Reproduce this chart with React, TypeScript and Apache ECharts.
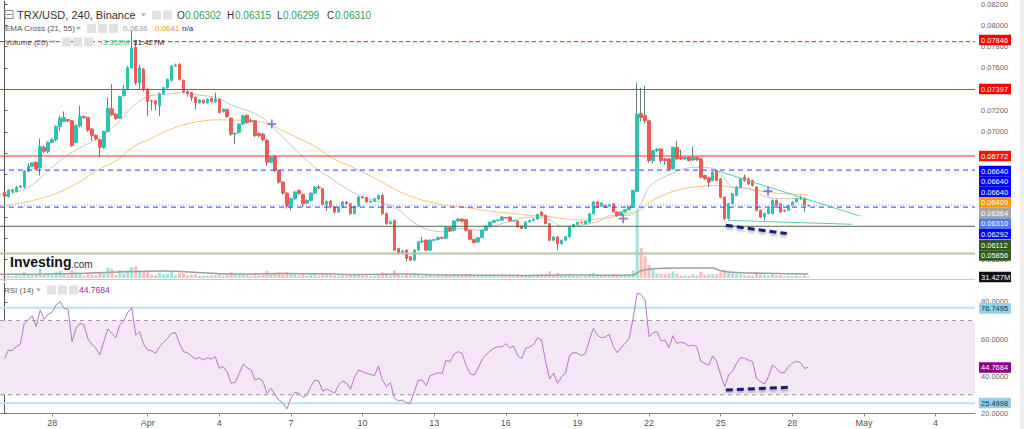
import React, { useEffect, useRef } from "react";
import * as echarts from "echarts";

// 4h bars from 26 Mar 00:00 — [open, close, low, high]
const candles: number[][] = [
  [0.06433, 0.06393, 0.0638, 0.0644], [0.06393, 0.06449, 0.0638, 0.0646], [0.0644, 0.06455, 0.06425, 0.06465], [0.0644, 0.0648, 0.0643, 0.0649], [0.0648, 0.0649, 0.0647, 0.065],
  [0.0648, 0.0663, 0.0647, 0.0664], [0.0663, 0.06676, 0.0662, 0.06704], [0.06676, 0.06707, 0.0667, 0.06715], [0.06714, 0.06651, 0.0664, 0.0672], [0.0666, 0.06863, 0.06589, 0.06937],
  [0.06854, 0.06816, 0.068, 0.0687], [0.06816, 0.069, 0.068, 0.0691], [0.069, 0.06925, 0.0689, 0.0694], [0.06925, 0.07049, 0.0691, 0.0706], [0.07049, 0.07128, 0.07009, 0.0715],
  [0.07097, 0.07134, 0.0709, 0.0719], [0.07115, 0.07103, 0.0709, 0.0712], [0.07103, 0.06869, 0.0686, 0.0711], [0.069, 0.07056, 0.0689, 0.0707], [0.07056, 0.07143, 0.0704, 0.07243],
  [0.07143, 0.07134, 0.0712, 0.0715], [0.07134, 0.07016, 0.07, 0.0714], [0.07025, 0.06963, 0.06916, 0.07035], [0.06966, 0.06932, 0.0692, 0.06975], [0.06925, 0.06854, 0.0676, 0.06935],
  [0.06854, 0.07003, 0.0684, 0.0701], [0.07003, 0.07221, 0.06995, 0.07321], [0.07215, 0.07159, 0.0715, 0.07446], [0.07165, 0.07125, 0.0711, 0.07175], [0.07128, 0.0733, 0.0712, 0.0734],
  [0.0734, 0.07393, 0.0733, 0.0744], [0.07399, 0.07601, 0.0739, 0.07617], [0.07601, 0.07785, 0.0759, 0.0795], [0.07795, 0.07461, 0.0744, 0.07846], [0.07461, 0.07601, 0.074, 0.0763],
  [0.07586, 0.07399, 0.0738, 0.076], [0.07399, 0.07284, 0.0715, 0.0741], [0.0729, 0.07284, 0.072, 0.073], [0.0729, 0.07259, 0.072, 0.073], [0.07243, 0.07358, 0.0715, 0.0737],
  [0.07358, 0.07414, 0.0735, 0.0742], [0.07414, 0.07492, 0.07405, 0.075], [0.07483, 0.07617, 0.0747, 0.07625], [0.07617, 0.07626, 0.0761, 0.0764], [0.07632, 0.07492, 0.0748, 0.07645],
  [0.07483, 0.07377, 0.0736, 0.0749], [0.07377, 0.07358, 0.0733, 0.0739], [0.07368, 0.07321, 0.0729, 0.07375], [0.07324, 0.07274, 0.07212, 0.0733], [0.07274, 0.07299, 0.07265, 0.07305],
  [0.07296, 0.07271, 0.07265, 0.073], [0.07274, 0.07305, 0.07265, 0.07315], [0.07315, 0.07284, 0.07275, 0.0732], [0.0728, 0.07305, 0.0727, 0.07368], [0.07305, 0.07181, 0.0717, 0.0731],
  [0.0719, 0.07212, 0.0718, 0.0722], [0.07209, 0.07144, 0.0713, 0.07215], [0.07128, 0.06978, 0.0696, 0.07135], [0.06978, 0.06985, 0.06885, 0.06995], [0.06994, 0.07072, 0.06985, 0.0708],
  [0.07072, 0.0715, 0.0706, 0.0716], [0.07153, 0.07087, 0.07075, 0.07165], [0.07103, 0.07097, 0.07085, 0.07125], [0.07103, 0.06963, 0.0695, 0.0711], [0.06985, 0.06963, 0.0695, 0.06995],
  [0.06978, 0.06925, 0.0691, 0.0699], [0.06922, 0.06714, 0.0668, 0.0693], [0.06714, 0.0676, 0.06705, 0.0677], [0.0677, 0.06636, 0.0662, 0.0678], [0.06636, 0.06527, 0.06515, 0.06645],
  [0.06527, 0.06424, 0.0641, 0.06535], [0.06424, 0.063, 0.06277, 0.0643], [0.063, 0.06371, 0.06262, 0.0638], [0.06371, 0.06433, 0.0636, 0.06445], [0.06449, 0.06418, 0.0641, 0.06455],
  [0.06412, 0.06324, 0.06293, 0.06418], [0.0633, 0.06355, 0.0632, 0.06365], [0.06355, 0.06424, 0.06345, 0.0643], [0.06424, 0.0648, 0.06415, 0.0649], [0.0648, 0.06472, 0.0646, 0.065],
  [0.06464, 0.06318, 0.0631, 0.0647], [0.06318, 0.06346, 0.06256, 0.06355], [0.06349, 0.06293, 0.0628, 0.0636], [0.06293, 0.06246, 0.0623, 0.063], [0.06246, 0.06293, 0.0624, 0.063],
  [0.06293, 0.0634, 0.06285, 0.0635], [0.0634, 0.06324, 0.06315, 0.0635], [0.06324, 0.06231, 0.0622, 0.0633], [0.06231, 0.063, 0.06225, 0.0631], [0.063, 0.06386, 0.0629, 0.06395],
  [0.06386, 0.0638, 0.0637, 0.064], [0.0638, 0.0634, 0.06335, 0.0639], [0.0634, 0.06346, 0.0633, 0.06355], [0.06346, 0.0637, 0.0634, 0.0638], [0.0637, 0.06402, 0.0636, 0.0641],
  [0.06402, 0.06231, 0.0622, 0.0642], [0.06231, 0.06137, 0.06125, 0.0624], [0.06137, 0.0615, 0.0613, 0.06165], [0.06165, 0.05888, 0.0588, 0.06175], [0.05903, 0.05857, 0.05845, 0.0591],
  [0.0587, 0.0588, 0.0586, 0.0589], [0.05888, 0.0581, 0.0578, 0.05895], [0.05826, 0.05795, 0.05785, 0.0583], [0.05795, 0.05888, 0.05785, 0.05895], [0.05888, 0.05966, 0.0588, 0.05975],
  [0.05966, 0.05975, 0.05955, 0.06012], [0.05981, 0.05888, 0.0588, 0.0599], [0.05888, 0.05981, 0.0588, 0.0599], [0.05981, 0.05987, 0.05975, 0.05995], [0.05987, 0.06006, 0.0598, 0.06015],
  [0.06006, 0.06, 0.05995, 0.06015], [0.06, 0.061, 0.05995, 0.0611], [0.061, 0.0607, 0.0606, 0.06105], [0.06075, 0.06162, 0.06065, 0.0617], [0.06162, 0.0618, 0.06155, 0.0619],
  [0.0618, 0.0616, 0.0615, 0.06185], [0.06175, 0.06075, 0.06065, 0.0618], [0.06075, 0.0599, 0.0598, 0.0608], [0.0599, 0.0596, 0.0595, 0.05995], [0.05966, 0.06006, 0.05955, 0.06012],
  [0.06006, 0.06075, 0.06, 0.0608], [0.06075, 0.06115, 0.0607, 0.0612], [0.06115, 0.0615, 0.0611, 0.06155], [0.0615, 0.06165, 0.06145, 0.06175], [0.06165, 0.0617, 0.0616, 0.0618],
  [0.0617, 0.06199, 0.06165, 0.06205], [0.06195, 0.0619, 0.06185, 0.062], [0.06199, 0.06162, 0.06155, 0.06205], [0.06162, 0.06165, 0.06155, 0.0617], [0.06162, 0.06106, 0.061, 0.0617],
  [0.06115, 0.0609, 0.06085, 0.0612], [0.0609, 0.06153, 0.06085, 0.0616], [0.06153, 0.06168, 0.06145, 0.06175], [0.06168, 0.0618, 0.0616, 0.06185], [0.0618, 0.06224, 0.06175, 0.0623],
  [0.06246, 0.06215, 0.06205, 0.06255], [0.06215, 0.06137, 0.0613, 0.0622], [0.06137, 0.05981, 0.05975, 0.0614], [0.05981, 0.06012, 0.0597, 0.0602], [0.06012, 0.0595, 0.05888, 0.0602],
  [0.0595, 0.05981, 0.0594, 0.05985], [0.05981, 0.06012, 0.05975, 0.0602], [0.06012, 0.06106, 0.06005, 0.0611], [0.06106, 0.0613, 0.061, 0.06135], [0.0613, 0.0615, 0.06125, 0.06155],
  [0.0615, 0.06145, 0.0614, 0.06155], [0.06137, 0.0616, 0.0613, 0.06165], [0.0615, 0.0623, 0.06145, 0.06235], [0.06231, 0.0634, 0.06225, 0.0635], [0.0634, 0.06293, 0.06285, 0.0635],
  [0.063, 0.0633, 0.06295, 0.06335], [0.0631, 0.0629, 0.06285, 0.06315], [0.063, 0.06315, 0.06295, 0.06325], [0.06324, 0.06246, 0.0624, 0.0633], [0.06246, 0.06215, 0.062, 0.0625],
  [0.06215, 0.06246, 0.06205, 0.0625], [0.06246, 0.06268, 0.0624, 0.06275], [0.06268, 0.063, 0.0626, 0.06305], [0.063, 0.06449, 0.06293, 0.06455], [0.0644, 0.07165, 0.0643, 0.0746],
  [0.07171, 0.07134, 0.071, 0.07414], [0.0715, 0.07103, 0.0708, 0.0743], [0.07103, 0.06729, 0.0671, 0.0711], [0.06729, 0.06822, 0.067, 0.0683], [0.06822, 0.06838, 0.0681, 0.0685],
  [0.06838, 0.06729, 0.067, 0.06845], [0.06745, 0.06729, 0.0669, 0.06755], [0.06745, 0.06651, 0.0664, 0.0675], [0.06651, 0.06854, 0.06645, 0.0686], [0.06854, 0.06745, 0.0673, 0.06916],
  [0.0676, 0.06745, 0.06735, 0.06832], [0.06745, 0.0676, 0.06735, 0.0677], [0.0676, 0.06729, 0.0672, 0.0677], [0.06736, 0.0676, 0.06725, 0.06863], [0.0676, 0.06736, 0.06725, 0.06765],
  [0.06745, 0.06573, 0.0656, 0.0675], [0.06589, 0.06558, 0.06545, 0.06595], [0.06567, 0.06527, 0.0648, 0.06575], [0.06542, 0.0662, 0.06535, 0.0663], [0.06636, 0.06542, 0.06535, 0.06645],
  [0.06558, 0.06386, 0.06375, 0.06565], [0.06386, 0.06184, 0.0617, 0.06395], [0.06184, 0.06324, 0.06175, 0.0633], [0.06324, 0.06418, 0.06315, 0.06425], [0.06402, 0.0648, 0.06395, 0.0649],
  [0.0648, 0.06558, 0.0647, 0.06565], [0.06573, 0.06542, 0.0653, 0.066], [0.06558, 0.06511, 0.065, 0.0657], [0.06542, 0.06496, 0.06485, 0.0655], [0.0648, 0.06262, 0.0625, 0.0649],
  [0.06262, 0.06199, 0.0619, 0.0627], [0.06199, 0.06231, 0.06168, 0.0624], [0.06231, 0.06278, 0.06225, 0.06285], [0.06231, 0.06355, 0.06225, 0.06365], [0.06355, 0.06308, 0.063, 0.06365],
  [0.06324, 0.06247, 0.0624, 0.0633], [0.06262, 0.06255, 0.06245, 0.0627], [0.06262, 0.06308, 0.06255, 0.06315], [0.06308, 0.0634, 0.063, 0.06345], [0.0634, 0.06371, 0.06335, 0.0638],
  [0.06371, 0.06375, 0.0636, 0.064], [0.0637, 0.06308, 0.0625, 0.0638], [0.06302, 0.0631, 0.06299, 0.06315],
];

// volume per bar, millions
const volumes: number[] = [
  12, 10, 8, 11, 9, 22, 15, 12, 14, 35, 14, 16, 12, 25, 28, 18, 10, 30, 22, 20,
  9, 15, 13, 10, 20, 18, 40, 35, 12, 30, 18, 30, 42, 45, 28, 26, 22, 12, 11, 20,
  14, 15, 22, 10, 20, 18, 10, 12, 14, 8, 8, 9, 10, 12, 18, 9, 12, 24, 14, 15,
  14, 12, 9, 20, 10, 12, 28, 14, 20, 22, 20, 24, 18, 15, 10, 18, 9, 14, 16, 10,
  20, 14, 12, 10, 9, 11, 8, 14, 12, 15, 8, 10, 7, 8, 10, 22, 18, 10, 30, 14,
  9, 16, 10, 18, 15, 9, 14, 14, 7, 8, 7, 15, 9, 16, 10, 9, 16, 15, 9, 10,
  12, 10, 10, 8, 6, 9, 6, 10, 6, 12, 9, 12, 8, 7, 12, 10, 16, 26, 12, 20,
  10, 9, 16, 8, 7, 6, 8, 14, 20, 12, 9, 8, 7, 14, 10, 10, 9, 10, 28, 265,
  115, 83, 50, 30, 18, 16, 14, 18, 26, 16, 10, 9, 10, 14, 10, 24, 12, 14, 16, 14,
  22, 30, 22, 18, 16, 14, 10, 10, 9, 24, 14, 12, 10, 16, 10, 12, 7, 9, 8, 9,
  6, 10, 5,
];

// Volume MA(20), read at sample bars [bar, millions]
const volumeMA: number[][] = [
  [-1.1, 14], [10, 15], [20, 18], [30, 24], [40, 27], [50, 20], [60, 15], [70, 17], [80, 16], [90, 13],
  [100, 15], [110, 12], [120, 11], [130, 10], [140, 12], [150, 11], [158, 12], [160, 28], [163, 36],
  [170, 38], [178, 38], [180, 28], [184, 21], [195, 17], [202, 15],
];

// EMA 21 (grey) read at sample bars
const ema21: number[][] = [
  [-1.1, 0.06415], [3, 0.06433], [7.3, 0.06511], [11.5, 0.06651], [15.7, 0.06776], [20, 0.06869], [24, 0.06947],
  [28.2, 0.07072], [32.4, 0.07243], [36.6, 0.07337], [40.8, 0.07352], [45, 0.07368], [49, 0.07343], [53.3, 0.07321],
  [57.5, 0.07243], [61.7, 0.0719], [65.9, 0.07103], [70, 0.06947], [74.3, 0.06791], [78.5, 0.06651], [82, 0.06565],
  [86, 0.06464], [90.2, 0.06386], [94.4, 0.0634], [98.6, 0.06278], [102.7, 0.06153], [106.9, 0.06075], [111.1, 0.0606],
  [115.3, 0.06092], [119.5, 0.06075], [123.7, 0.06122], [127.9, 0.06168], [132, 0.06199], [136.2, 0.06184],
  [140.4, 0.06112], [144.6, 0.06122], [148.8, 0.06153], [153, 0.06215], [156, 0.06215], [158, 0.06225], [160, 0.0633],
  [162, 0.0648], [165, 0.0656], [168, 0.0661], [170.6, 0.06651], [174.8, 0.06667], [179, 0.06636], [183.2, 0.0648],
  [187.3, 0.06464], [191.5, 0.06386], [195.7, 0.06371], [199.9, 0.06371], [202, 0.06364],
];

// EMA 55 (orange) read at sample bars
const ema55: number[][] = [
  [-1.1, 0.06302], [7.3, 0.06355], [15.7, 0.06464], [24, 0.06651], [28.2, 0.06729], [32.4, 0.0686], [36.6, 0.06932],
  [40.8, 0.07009], [45, 0.07065], [49, 0.07096], [53.3, 0.07112], [57.5, 0.07109], [61.7, 0.07103], [65.9, 0.07078],
  [70, 0.07009], [74.3, 0.06932], [78.5, 0.06854], [82, 0.0676], [86, 0.06692], [90.2, 0.0662], [94.4, 0.06536],
  [98.6, 0.0645], [102.7, 0.06386], [106.9, 0.0634], [111.1, 0.06309], [115.3, 0.06293], [119.5, 0.06268],
  [123.7, 0.06246], [127.9, 0.06231], [132, 0.06215], [136.2, 0.06206], [140.4, 0.06184], [144.6, 0.0617],
  [149, 0.0618], [153, 0.062], [157, 0.06235], [160, 0.0627], [162.2, 0.0634], [166.4, 0.06418], [170.6, 0.06464],
  [174.8, 0.06486], [179, 0.06496], [183.2, 0.06474], [187.3, 0.06464], [191.5, 0.06433], [195.7, 0.06418],
  [199.9, 0.06412], [202, 0.06409],
];

// RSI(14) per bar
const rsi: number[] = [
  49.2, 54.1, 53.7, 55.9, 57.1, 68.4, 70.2, 72.5, 66.6, 75.6, 70.6, 73.3, 74.3, 78.3, 80.1, 76.5, 76.1, 58.6, 65.7, 68.4,
  67.5, 60.0, 57.1, 55.0, 51.4, 58.6, 65.4, 63.0, 60.7, 67.5, 69.7, 74.3, 76.8, 62.1, 63.9, 57.1, 54.1, 53.7, 52.3, 55.9,
  58.2, 60.4, 63.0, 63.4, 57.7, 53.2, 52.6, 50.9, 49.2, 50.0, 48.7, 50.0, 49.2, 50.5, 44.2, 45.1, 42.4, 36.2, 36.7, 41.5,
  46.4, 44.6, 43.3, 37.9, 38.9, 37.1, 30.8, 33.5, 29.9, 27.2, 25.4, 22.4, 28.1, 31.3, 30.8, 28.6, 29.9, 34.4, 37.9, 37.4,
  32.0, 33.1, 32.0, 30.8, 35.3, 37.4, 36.2, 33.1, 39.7, 43.3, 42.4, 41.5, 41.0, 40.3, 45.5, 37.9, 34.4, 36.5, 28.1, 26.8,
  27.2, 25.8, 25.4, 31.7, 37.9, 37.9, 34.9, 40.3, 41.0, 41.9, 41.5, 48.7, 47.8, 51.8, 53.2, 52.3, 46.0, 41.5, 40.6, 44.2,
  48.7, 51.4, 53.5, 55.0, 55.9, 55.7, 57.5, 55.3, 56.2, 51.0, 49.6, 55.0, 55.7, 57.1, 60.7, 59.4, 47.8, 38.5, 41.7, 36.2,
  39.7, 41.5, 51.0, 52.8, 52.3, 51.0, 52.3, 59.4, 65.7, 62.1, 60.7, 61.1, 62.5, 55.9, 52.6, 55.3, 57.8, 60.4, 71.1, 84.6,
  84.0, 81.0, 61.2, 63.4, 63.9, 58.9, 59.5, 55.3, 61.8, 57.7, 58.2, 57.7, 56.2, 56.8, 55.9, 48.1, 46.9, 46.0, 50.9, 47.8,
  40.6, 34.4, 40.6, 42.8, 46.9, 50.0, 49.6, 48.7, 47.8, 38.8, 37.1, 35.8, 39.7, 46.0, 44.2, 41.9, 41.9, 45.1, 46.9, 48.1,
  47.4, 44.2, 44.7684,
];

const dateTicks = [12, 36, 54, 72, 90, 108, 126, 144, 162, 180, 198, 216, 234];
const dateLabels = ["28", "Apr", "4", "7", "10", "13", "16", "19", "22", "25", "28", "May", "4"];
// price-axis ticks that are covered by the coloured tags in the reference
const coveredPriceTicks = [0.074, 0.068, 0.066, 0.064, 0.062, 0.06];

const redDashedLevel = 0.07846;
const redLevels = [0.07397, 0.06772];
const blueLevels = [0.0664, 0.06292];
const lastPrice = 0.0631;
const greenLevels = [0.06112, 0.05856];
const rsiBands = [70, 30];
const rsiLevels = [76.7495, 25.4998];
const triangleUpper = [[179, 0.06636], [215, 0.06208]];
const triangleLower = [[181.9, 0.06168], [212.9, 0.06131]];
const priceDivergence = [[181.3, 0.06121], [196.6, 0.06044]];
const rsiDivergence = [[181.3, 32.6], [196.9, 34.0]];
const emaCrosses = [[67.2, 0.07072], [155.5, 0.06184], [191.9, 0.06442]];

const FONT = "Arial, 'Liberation Sans', sans-serif";
const UP = "#2bc4b0";
const DOWN = "#ef5b57";
const WICK = "#6d7d79";
const X_MIN = -1.1;
const X_MAX = 243.9;

function levelSeries(value: number, axis: number, color: string, type: any, width: number, z = 4): any {
  return {
    type: "line", xAxisIndex: axis, yAxisIndex: axis, silent: true, showSymbol: false, z,
    data: [[X_MIN, value], [X_MAX, value]],
    lineStyle: { color, type, width },
  };
}

function buildOption(): any {
  const last = candles[candles.length - 1];
  const wickData = candles.map((c, i) => [i, c[0], c[1], c[2], c[3]]);
  const bodyData = candles.map((c, i) => [i, c[0], c[1], Math.min(c[0], c[1]), Math.max(c[0], c[1])]);
  const volData = volumes.map((v, i) => ({
    value: [i, v],
    itemStyle: { color: candles[i][1] >= candles[i][0] ? "rgba(43,196,176,0.45)" : "rgba(239,91,87,0.4)" },
  }));
  const rsiData = rsi.map((v, i) => [i, v]);

  const txt = (x: number, y: number, text: string, fill: string, size = 8, weight = "normal") => ({
    type: "text", x, y, z: 100,
    style: { text, fill, font: `${weight} ${size}px ${FONT}`, verticalAlign: "middle" },
  });
  const icon = (x: number, y: number) => ({
    type: "rect", z: 100, shape: { x, y, width: 9, height: 9, r: 1 }, style: { fill: "#e2e2e2" },
  });
  const caret = (x: number, y: number) => ({
    type: "polygon", z: 100, shape: { points: [[x, y - 1.5], [x + 5, y - 1.5], [x + 2.5, y + 1.5]] }, style: { fill: "#aaa" },
  });
  const tag = (text: string, y: number, bg: string, fg: string) => ({
    type: "group", x: 979, y: y - 5.25, z: 110,
    children: [
      { type: "rect", z: 110, shape: { x: 0, y: 0, width: 32, height: 10.5 }, style: { fill: bg } },
      { type: "text", z: 111, x: 2, y: 5.5, style: { text, fill: fg, font: `7.5px ${FONT}`, verticalAlign: "middle" } },
    ],
  });

  const f5 = (v: number) => v.toFixed(5);
  const graphic: any[] = [
    { type: "rect", z: 0, shape: { x: 1020, y: 0, width: 4, height: 429 }, style: { fill: "#f0f0f0" } },
    { type: "line", z: 50, shape: { x1: 0, y1: 279.5, x2: 975, y2: 279.5 }, style: { stroke: "#c8c8c8", lineWidth: 1 } },
    // title row
    { type: "rect", z: 100, shape: { x: 5, y: 10.5, width: 8, height: 8 }, style: { fill: "#fff", stroke: "#888", lineWidth: 1 } },
    { type: "line", z: 101, shape: { x1: 6.5, y1: 14.5, x2: 11.5, y2: 14.5 }, style: { stroke: "#888", lineWidth: 1 } },
    txt(17, 15, "TRX/USD, 240, Binance", "#333", 11),
    caret(141, 15),
    icon(152, 10.5), icon(163, 10.5),
    txt(177, 15, "O", "#333", 10), txt(185, 15, f5(last[0]), "#2f9e57", 10),
    txt(227, 15, "H", "#333", 10), txt(235, 15, f5(last[3]), "#2f9e57", 10),
    txt(277, 15, "L", "#333", 10), txt(283, 15, f5(last[2]), "#2f9e57", 10),
    txt(327, 15, "C", "#333", 10), txt(335, 15, f5(last[1]), "#2f9e57", 10),
    // EMA row
    txt(5, 28.5, "EMA Cross (21, 55)", "#555", 8),
    caret(76, 28.5),
    icon(87, 24), icon(98, 24), icon(109, 24),
    txt(123, 28.5, ema21[ema21.length - 1][1].toFixed(4), "#9a9a9a", 8),
    txt(155, 28.5, ema55[ema55.length - 1][1].toFixed(4), "#ff9800", 8),
    txt(182, 28.5, "n/a", "#1a237e", 8),
    // Volume row
    txt(5, 42, "Volume (20)", "#555", 8),
    caret(51, 42),
    icon(62, 37.5), icon(73, 37.5), icon(84, 37.5),
    txt(100, 42, "-3.352M", "#35c28a", 8),
    txt(133, 42, "31.427M", "#222", 8),
    // RSI row
    txt(4, 290, "RSI (14)", "#555", 8),
    caret(36, 290),
    icon(47, 285.5), icon(58, 285.5), icon(69, 285.5),
    txt(79, 290, rsi[rsi.length - 1].toFixed(4), "#9c27b0", 8.5),
    // watermark
    txt(10, 262, "Investing", "#111", 14, "bold"),
    txt(71, 264, ".com", "#333", 10),
    // price tags
    tag(f5(redDashedLevel), 40, "#ff0000", "#fff"),
    tag(f5(redLevels[0]), 89, "#ff0000", "#fff"),
    tag(f5(redLevels[1]), 156, "#ff1010", "#fff"),
    tag(f5(blueLevels[0]), 171, "#0000ff", "#fff"),
    tag(f5(blueLevels[0]), 181.5, "#0000ff", "#fff"),
    tag(f5(blueLevels[0]), 192, "#0000ff", "#fff"),
    tag(f5(ema55[ema55.length - 1][1]), 202.5, "#ff9800", "#fff"),
    tag(f5(ema21[ema21.length - 1][1]), 213, "#a5a5a5", "#fff"),
    tag(f5(lastPrice), 223.5, "#4a7fe0", "#fff"),
    tag(f5(blueLevels[1]), 234, "#0000ff", "#fff"),
    tag(f5(greenLevels[0]), 245, "#2e5a1c", "#fff"),
    tag(f5(greenLevels[1]), 255.5, "#2e5a1c", "#fff"),
    tag("31.427M", 277, "#111111", "#fff"),
    tag(rsiLevels[0].toFixed(4), 308.5, "#8ed4e6", "#1d2d5c"),
    tag(rsi[rsi.length - 1].toFixed(4), 367.5, "#8b008b", "#fff"),
    tag(rsiLevels[1].toFixed(4), 403, "#8ed4e6", "#1d2d5c"),
  ];

  const hidden = { show: false };
  const priceFmt = (v: number) =>
    coveredPriceTicks.some((c) => Math.abs(c - v) < 1e-6) ? "" : v.toFixed(5);
  return {
    animation: false,
    backgroundColor: "#ffffff",
    textStyle: { fontFamily: FONT },
    grid: [
      { left: 0, top: 0, width: 975, height: 280.8 },
      { left: 0, top: 200, width: 975, height: 78 },
      { left: 0, top: 283.2, width: 975, height: 130.2 },
    ],
    xAxis: [
      { type: "value", gridIndex: 0, min: X_MIN, max: X_MAX, show: false },
      { type: "value", gridIndex: 1, min: X_MIN, max: X_MAX, show: false },
      {
        type: "value", gridIndex: 2, min: X_MIN, max: X_MAX,
        axisLine: { show: true, lineStyle: { color: "#888" } },
        axisTick: { show: true, customValues: dateTicks, length: 3, lineStyle: { color: "#888" } },
        axisLabel: {
          customValues: dateTicks, color: "#555", fontSize: 9, margin: 5,
          formatter: (v: number) => { const k = dateTicks.indexOf(Math.round(v)); return k >= 0 ? dateLabels[k] : ""; },
        },
        splitLine: hidden,
      },
    ],
    yAxis: [
      {
        type: "value", gridIndex: 0, position: "right", min: 0.056, max: 0.08224, interval: 0.002,
        axisLine: { show: true, lineStyle: { color: "#555" } },
        axisTick: { show: true, length: 3, lineStyle: { color: "#555" } },
        axisLabel: { color: "#666", fontSize: 7.5, margin: 6, showMaxLabel: false, showMinLabel: false, formatter: priceFmt },
        splitLine: hidden,
      },
      { type: "value", gridIndex: 1, min: 0, max: 300, show: false, splitLine: hidden },
      {
        type: "value", gridIndex: 2, position: "right", min: 20, max: 90, interval: 20,
        axisLine: { show: true, lineStyle: { color: "#555" } },
        axisTick: { show: true, length: 3, lineStyle: { color: "#555" } },
        axisLabel: { color: "#666", fontSize: 7.5, margin: 6, showMaxLabel: false, formatter: (v: number) => v.toFixed(4) },
        splitLine: hidden,
      },
    ],
    series: [
      {
        type: "line", name: "EMA55", xAxisIndex: 0, yAxisIndex: 0, data: ema55, smooth: 0.4, showSymbol: false, z: 2,
        lineStyle: { color: "#fcc07a", width: 1 },
      },
      {
        type: "line", name: "EMA21", xAxisIndex: 0, yAxisIndex: 0, data: ema21, smooth: 0.4, showSymbol: false, z: 2,
        lineStyle: { color: "#c4c4c4", width: 1 },
      },
      {
        type: "candlestick", name: "wick", xAxisIndex: 0, yAxisIndex: 0, data: wickData, barWidth: 1, z: 3,
        itemStyle: { color: WICK, color0: WICK, borderColor: WICK, borderColor0: WICK, borderWidth: 1 },
      },
      {
        type: "candlestick", name: "body", xAxisIndex: 0, yAxisIndex: 0, data: bodyData, barWidth: 3, z: 3,
        itemStyle: { color: UP, color0: DOWN, borderColor: UP, borderColor0: DOWN, borderWidth: 1 },
      },
      levelSeries(redDashedLevel, 0, "#ff1f1f", [4, 3], 1),
      ...redLevels.map((v) => levelSeries(v, 0, "#f03030", "solid", 1)),
      ...blueLevels.map((v) => levelSeries(v, 0, "#2f3fff", [5, 4], 1)),
      levelSeries(lastPrice, 0, "#a9b9ff", [1, 2], 1.5),
      levelSeries(greenLevels[0], 0, "#4e6b43", "solid", 1),
      levelSeries(greenLevels[1], 0, "#b5c4ad", "solid", 2),
      {
        type: "line", xAxisIndex: 0, yAxisIndex: 0, data: triangleUpper, showSymbol: false, z: 6,
        lineStyle: { color: "#5fc9b5", width: 1 },
      },
      {
        type: "line", xAxisIndex: 0, yAxisIndex: 0, data: triangleLower, showSymbol: false, z: 6,
        lineStyle: { color: "#5fc9b5", width: 1 },
      },
      {
        type: "line", xAxisIndex: 0, yAxisIndex: 0, data: priceDivergence, showSymbol: false, z: 6,
        lineStyle: { color: "#1c1c7c", width: 3, type: [7, 4], shadowColor: "rgba(0,0,0,0.35)", shadowBlur: 3, shadowOffsetY: 2 },
      },
      {
        type: "scatter", xAxisIndex: 0, yAxisIndex: 0, data: emaCrosses, z: 7,
        symbol: "path://M4,0h2v4h4v2h-4v4h-2v-4h-4v-2h4z", symbolSize: 9,
        itemStyle: { color: "#6c5fd0" },
      },
      {
        type: "bar", xAxisIndex: 1, yAxisIndex: 1, data: volData, barWidth: 3, z: 1,
      },
      {
        type: "line", xAxisIndex: 1, yAxisIndex: 1, data: volumeMA, showSymbol: false, smooth: 0.3, z: 2,
        lineStyle: { color: "#9e9e9e", width: 1.5 },
      },
      {
        type: "line", name: "RSI", xAxisIndex: 2, yAxisIndex: 2, data: rsiData, showSymbol: false, z: 3,
        lineStyle: { color: "#bb72cc", width: 1 },
        markArea: { silent: true, itemStyle: { color: "#f3e6f5" }, data: [[{ yAxis: rsiBands[1] }, { yAxis: rsiBands[0] }]] },
      },
      ...rsiBands.map((v) => levelSeries(v, 2, "#9a8f9a", [4, 4], 1, 2)),
      ...rsiLevels.map((v) => levelSeries(v, 2, "#b4e2ee", "solid", 2, 2)),
      {
        type: "line", xAxisIndex: 2, yAxisIndex: 2, data: rsiDivergence, showSymbol: false, z: 6,
        lineStyle: { color: "#1c1c7c", width: 3, type: [7, 4], shadowColor: "rgba(0,0,0,0.35)", shadowBlur: 3, shadowOffsetY: 2 },
      },
    ],
    graphic,
  };
}

export default function App() {
  const ref = useRef<HTMLDivElement>(null);
  useEffect(() => {
    const chart = echarts.init(ref.current as HTMLDivElement, null, { renderer: "svg" });
    chart.setOption(buildOption());
    return () => chart.dispose();
  }, []);
  return (
    <div
      ref={ref}
      style={{ position: "fixed", left: 0, top: 0, width: 1024, height: 429, background: "#fff" }}
    />
  );
}
